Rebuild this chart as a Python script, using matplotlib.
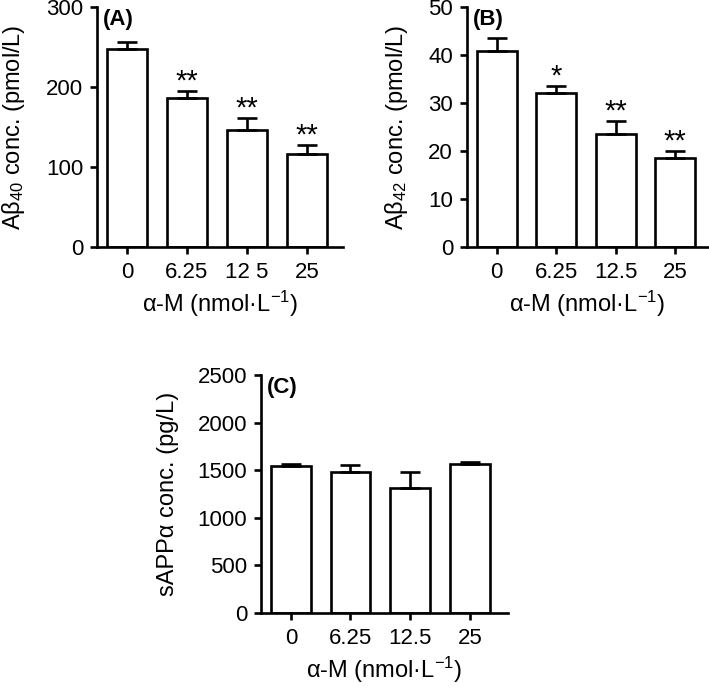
"""Abeta40, Abeta42 and sAPPalpha levels versus alpha-M concentration."""
import matplotlib
matplotlib.use("Agg")
import matplotlib.pyplot as plt
import numpy as np

plt.rcParams["font.family"] = ["Liberation Sans", "DejaVu Sans"]
plt.rcParams["mathtext.fontset"] = "custom"
plt.rcParams["mathtext.rm"] = "Liberation Sans"
plt.rcParams["mathtext.it"] = "Liberation Sans:italic"
plt.rcParams["mathtext.bf"] = "Liberation Sans:bold"

doses_a = ["0", "6.25", "12 5", "25"]
doses = ["0", "6.25", "12.5", "25"]

ab40_mean = [247, 186, 146, 116]
ab40_err = [9, 9, 15, 11]
ab40_sig = ["", "**", "**", "**"]

ab42_mean = [40.8, 32.0, 23.5, 18.5]
ab42_err = [2.8, 1.6, 2.7, 1.6]
ab42_sig = ["", "*", "**", "**"]

sapp_mean = [1545, 1476, 1310, 1563]
sapp_err = [18, 76, 176, 20]

W, H = 709, 688
TICK_FS = 16
LABEL_FS = 17
LW = 1.9


def panel(rect, labels, means, errs, sigs, ymax, ystep, ylabel, tag, xright, ylab_x):
    l, t, r, b = rect
    ax = plt.gcf().add_axes([l / W, 1 - b / H, (r - l) / W, (b - t) / H])
    x = np.arange(len(means))
    ax.bar(x, means, width=0.67, color="white", edgecolor="black", linewidth=LW, zorder=2)
    ax.errorbar(x, means, yerr=[np.zeros(len(errs)), errs], fmt="none", ecolor="black",
                elinewidth=LW, capsize=7.5, capthick=LW, zorder=3)
    for xi, m, e, s in zip(x, means, errs, sigs):
        if s:
            ax.annotate(s, (xi, m + e), xytext=(0, 1), textcoords="offset points",
                        ha="center", va="baseline", fontsize=21)
    ax.set_xlim(-0.5, xright)
    ax.set_ylim(0, ymax)
    ax.set_yticks(np.arange(0, ymax + ystep / 2, ystep))
    ax.set_xticks(x)
    ax.set_xticklabels(labels)
    for side in ("top", "right"):
        ax.spines[side].set_visible(False)
    for side in ("left", "bottom"):
        ax.spines[side].set_linewidth(LW)
    ax.tick_params(direction="out", length=5, width=LW, labelsize=TICK_FS, pad=5)
    ax.tick_params(axis="x", pad=6)
    ax.set_ylabel(ylabel, fontsize=LABEL_FS)
    ax.yaxis.set_label_coords((ylab_x - l) / (r - l), 0.5)
    ax.set_xlabel(r"α-M (nmol·L$^{-1}$)", fontsize=LABEL_FS, labelpad=4)
    ax.text(0.025, 0.99, tag, transform=ax.transAxes, ha="left", va="top",
            fontsize=16, fontweight="bold")
    return ax


fig = plt.figure(figsize=(W / 100, H / 100), dpi=100)

panel((97, 7, 343, 247), doses_a, ab40_mean, ab40_err, ab40_sig, 300, 100,
      "Aβ$_{40}$ conc. (pmol/L)", "(A)", 3.6, 27)
panel((467, 7, 708, 247), doses, ab42_mean, ab42_err, ab42_sig, 50, 10,
      "Aβ$_{42}$ conc. (pmol/L)", "(B)", 3.55, 410)
panel((261, 375, 508, 613), doses, sapp_mean, sapp_err, ["", "", "", ""], 2500, 500,
      "sAPPα conc. (pg/L)", "(C)", 3.64, 179)

fig.savefig("out.png", dpi=100)
